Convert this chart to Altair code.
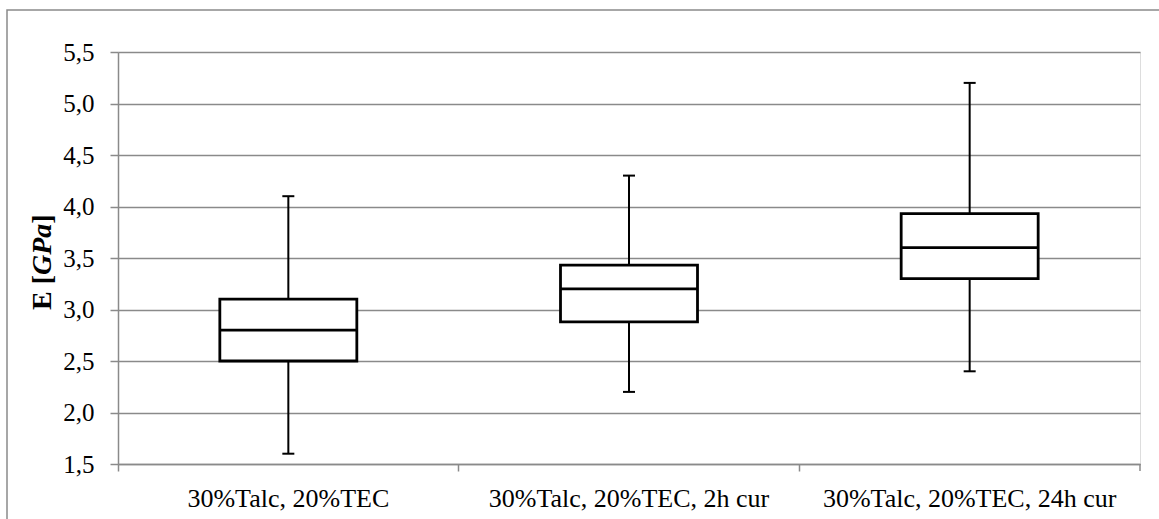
import altair as alt
import pandas as pd

categories = ["30%Talc, 20%TEC", "30%Talc, 20%TEC, 2h cur", "30%Talc, 20%TEC, 24h cur"]
whisker_low = [1.6, 2.2, 2.4]
q1 = [2.5, 2.88, 3.3]
median = [2.8, 3.2, 3.6]
q3 = [3.1, 3.43, 3.93]
whisker_high = [4.1, 4.3, 5.2]
y_ticks = [1.5, 2.0, 2.5, 3.0, 3.5, 4.0, 4.5, 5.0, 5.5]

df = pd.DataFrame({
    "cat": categories, "lo": whisker_low, "q1": q1, "med": median,
    "q3": q3, "hi": whisker_high,
})

W, H = 1022, 412
FONT = "Liberation Serif"
GRAY = "#8a8a8a"

x = alt.X("cat:N", sort=categories, title=None,
          scale=alt.Scale(type="band", paddingInner=0, paddingOuter=0),
          axis=alt.Axis(bandPosition=0, labelAngle=0,
                        labelFont=FONT, labelFontSize=26, labelColor="black",
                        labelLimit=500, labelPadding=14, tickSize=7,
                        tickColor=GRAY, domainColor=GRAY, tickWidth=1.5,
                        domainWidth=1.5, grid=False))
y_axis = alt.Axis(values=y_ticks, labelExpr="replace(format(datum.value, '.1f'), '.', ',')",
                  labelFont=FONT, labelFontSize=25, labelColor="black",
                  labelPadding=16, tickSize=8, tickColor=GRAY, tickWidth=1.5,
                  domainColor=GRAY, domainWidth=1.5, gridColor=GRAY, gridWidth=1.3,
                  title=None)
yscale = alt.Scale(domain=[1.5, 5.5], nice=False, zero=False)

base = alt.Chart(df)

whisk = base.mark_rule(color="black", strokeWidth=2).encode(
    x=x, y=alt.Y("lo:Q", scale=yscale, axis=y_axis), y2="hi:Q")
cap_lo = base.mark_tick(color="black", size=12, thickness=2, opacity=1).encode(x=x, y="lo:Q")
cap_hi = base.mark_tick(color="black", size=12, thickness=2, opacity=1).encode(x=x, y="hi:Q")
box = base.mark_bar(fill="white", stroke="black", strokeWidth=2.8, size=137, opacity=1).encode(
    x=x, y="q1:Q", y2="q3:Q")
med = base.mark_tick(color="black", size=137, thickness=2.8, opacity=1).encode(x=x, y="med:Q")

end_tick = alt.Chart(pd.DataFrame({"a": [0]})).mark_rule(color=GRAY, strokeWidth=1.5).encode(
    x=alt.value(W), y=alt.value(H), y2=alt.value(H + 7))

border = alt.Chart(pd.DataFrame({"a": [0]})).mark_rect(
    fill="transparent", stroke=GRAY, strokeWidth=1.5).encode(
    x=alt.value(-111), x2=alt.value(W + 40), y=alt.value(-42), y2=alt.value(H + 80))

title_df = pd.DataFrame({"a": [0]})
t_common = dict(angle=270, align="left", baseline="alphabetic", font=FONT,
                fontSize=28, fontWeight="bold", color="black")
t1 = alt.Chart(title_df).mark_text(text="E [", **t_common).encode(
    x=alt.value(-67), y=alt.value(258))
t2 = alt.Chart(title_df).mark_text(text="GPa", fontStyle="italic", **t_common).encode(
    x=alt.value(-67), y=alt.value(258 - 35))
t3 = alt.Chart(title_df).mark_text(text="]", **t_common).encode(
    x=alt.value(-67), y=alt.value(258 - 35 - 51.3))

chart = alt.layer(border, whisk, cap_lo, cap_hi, box, med, end_tick, t1, t2, t3).properties(
    width=W, height=H,
    autosize=alt.AutoSizeParams(type="none"),
    padding={"left": 118, "top": 52, "right": 19, "bottom": 55},
).configure_view(strokeWidth=0).configure(background="white")

chart.save("out.html", embed_options={"renderer": "svg", "actions": False})
